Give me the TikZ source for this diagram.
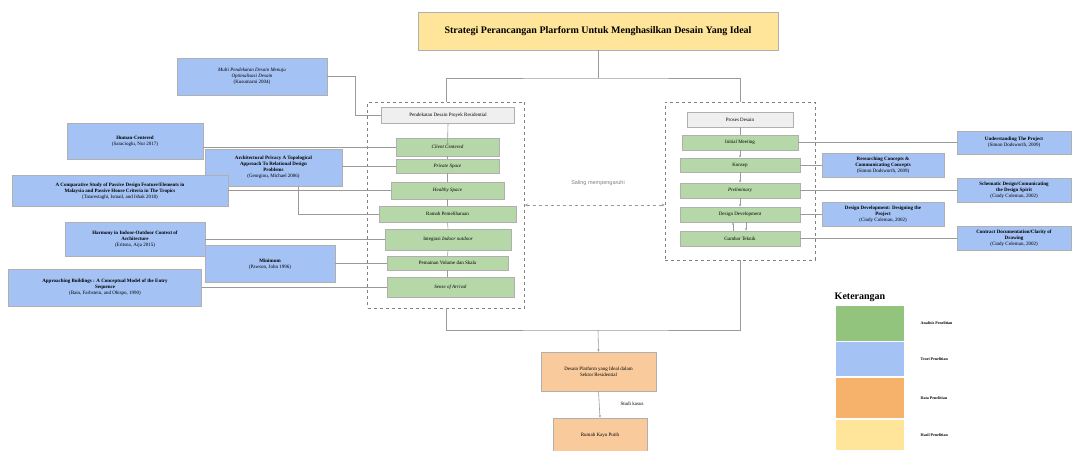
\documentclass[tikz,border=0pt]{standalone}
\usepackage{fontspec}
\setmainfont{Liberation Serif}
\newfontfamily\sansfont{Liberation Sans}
\usetikzlibrary{arrows.meta}

\definecolor{titleyellow}{HTML}{FFE599}
\definecolor{teoriblue}{HTML}{A4C2F4}
\definecolor{stepgreen}{HTML}{B6D7A8}
\definecolor{headgray}{HTML}{EFEFEF}
\definecolor{datapeach}{HTML}{F9CB9C}
\definecolor{leggreen}{HTML}{93C47D}
\definecolor{legorange}{HTML}{F6B26B}
\definecolor{linegray}{HTML}{9A9A9A}
\definecolor{edgegray}{HTML}{B0B0B0}

\tikzset{
  smalltext/.style={font=\fontsize{5}{6}\selectfont},
  anybox/.style={draw=edgegray, line width=0.6pt, inner sep=0pt, align=center, smalltext},
  teoribox/.style={anybox, fill=teoriblue},
  stepbox/.style={anybox, fill=stepgreen},
  headbox/.style={anybox, fill=headgray},
  databox/.style={anybox, fill=datapeach},
  framebox/.style={draw=gray, dashed, line width=0.6pt, inner sep=0pt},
  link/.style={draw=linegray, line width=0.6pt},
  arrowlink/.style={link, -{Stealth[length=2.6pt,width=2.2pt]}},
  legbox/.style={draw=none, inner sep=0pt, minimum width=68pt},
  legtext/.style={anchor=west, font=\fontsize{4}{5}\selectfont\bfseries}
}

\begin{document}
\begin{tikzpicture}[x=1pt,y=-1pt]
\useasboundingbox (0,0) rectangle (1075,450);

\node[anybox, fill=titleyellow, minimum width=360pt, minimum height=38pt, font=\fontsize{10}{12}\selectfont\bfseries] (title) at (598,31) {Strategi Perancangan Plarform Untuk Menghasilkan Desain Yang Ideal};

\node[framebox, minimum width=157pt, minimum height=206pt] (lframe) at (446,205) {};
\node[framebox, minimum width=150pt, minimum height=158pt] (rframe) at (740,181) {};

\node[headbox, minimum width=133pt, minimum height=16pt] (pdp) at (448,115) {Pendekatan Desain Proyek Residential};
\node[stepbox, minimum width=103pt, minimum height=18pt] (client) at (447.5,147) {\textit{Client Centered}};
\node[stepbox, minimum width=103pt, minimum height=14pt] (private) at (447.5,166) {\textit{Private Space}};
\node[stepbox, minimum width=113pt, minimum height=17pt] (healthy) at (447.5,190.5) {\textit{Healthy Space}};
\node[stepbox, minimum width=137pt, minimum height=16pt] (ramah) at (447.5,214) {Ramah Pemeliharaan};
\node[stepbox, minimum width=126pt, minimum height=21pt] (integrasi) at (448,239.5) {Integrasi \textit{Indoor outdoor}};
\node[stepbox, minimum width=121pt, minimum height=14pt] (pemainan) at (447.5,263) {Pemainan Volume dan Skala};
\node[stepbox, minimum width=127pt, minimum height=20pt] (sense) at (450.5,287) {\textit{Sense of Arrival}};

\node[headbox, minimum width=106pt, minimum height=15pt] (proses) at (740,119.5) {Proses Desain};
\node[stepbox, minimum width=116pt, minimum height=15pt] (initial) at (740,142.5) {Initial Meeting};
\node[stepbox, minimum width=120pt, minimum height=14pt] (konsep) at (740,165) {Konsep};
\node[stepbox, minimum width=120pt, minimum height=15pt] (prelim) at (740,190.5) {\textit{Preliminary}};
\node[stepbox, minimum width=120pt, minimum height=15pt] (devel) at (740,214.5) {Design Development};
\node[stepbox, minimum width=120pt, minimum height=15pt] (gambar) at (740,238.5) {Gambar Teknik};

\node[teoribox, minimum width=150pt, minimum height=37pt] (multi) at (252,76.5) {\textit{Multi Pendekatan Desain Menuju}\\\textit{Optimalisasi Desain}\\(Kusumarni 2004)};
\node[teoribox, minimum width=136pt, minimum height=36pt] (human) at (135,141) {\textbf{Human-Centered}\\(Saracioglu, Nur 2017)};
\node[teoribox, minimum width=137pt, minimum height=37pt] (privacy) at (273.5,167.5) {\textbf{Architectural Privacy A Topological}\\\textbf{Approach To Relational Design}\\\textbf{Problems}\\(Georgiou, Michael 2006)};
\node[teoribox, minimum width=216pt, minimum height=31pt] (passive) at (120,191) {\textbf{A Comparative Study of Passive Design Feature/Elements in}\\\textbf{Malaysia and Passive House Criteria in The Tropics}\\(Tatarestaghi, Ismail, and Ishak 2018)};
\node[teoribox, minimum width=140pt, minimum height=34pt] (harmony) at (135,239) {\textbf{Harmony in Indoor-Outdoor Context of}\\\textbf{Architecture}\\(Eritsna, Aija 2015)};
\node[teoribox, minimum width=130pt, minimum height=37pt] (minimum) at (270,264) {\textbf{Minimum}\\(Pawson, John 1996)};
\node[teoribox, minimum width=193pt, minimum height=37pt] (entry) at (105,287.5) {\textbf{Approaching Buildings : A Conceptual Model of the Entry}\\\textbf{Sequence}\\(Bain, Farbstein, and Obispo, 1990)};

\node[teoribox, minimum width=114pt, minimum height=23pt] (understand) at (1014,142.5) {\textbf{Understanding The Project}\\(Simon Dodsworth, 2009)};
\node[teoribox, minimum width=122pt, minimum height=24pt] (research) at (883,165) {\textbf{Researching Concepts \&}\\\textbf{Communicating Concepts}\\(Simon Dodsworth, 2009)};
\node[teoribox, minimum width=114pt, minimum height=24pt] (schematic) at (1014,190.5) {\textbf{Schematic Design/Comunicating}\\\textbf{the Design Spirit}\\(Cindy Coleman, 2002)};
\node[teoribox, minimum width=122pt, minimum height=24pt] (designing) at (883,214) {\textbf{Design Development: Designing the}\\\textbf{Project}\\(Cindy Coleman, 2002)};
\node[teoribox, minimum width=114pt, minimum height=24pt] (contract) at (1014,238.5) {\textbf{Contract Documentation/Clarity of}\\\textbf{Drawing}\\(Cindy Coleman, 2002)};

\node[font=\sansfont\fontsize{5.5}{6}\selectfont, text=gray] (saling) at (598,183) {Saling mempengaruhi};

\node[databox, minimum width=115pt, minimum height=39pt] (platform) at (598.5,371.5) {Desain Platform yang Ideal dalam\\Sektor Residential};
\node[databox, minimum width=94pt, minimum height=34pt] (rumah) at (600,435) {Rumah Kayu Putih};
\node[smalltext] (studi) at (632,404) {Studi kasus};

\node[font=\fontsize{10}{11}\selectfont\bfseries] (keterangan) at (860,297) {Keterangan};
\node[legbox, fill=leggreen, minimum height=35pt] (leg1) at (870,323.5) {};
\node[legbox, fill=teoriblue, minimum height=34pt] (leg2) at (870,359) {};
\node[legbox, fill=legorange, minimum height=40pt] (leg3) at (870,398) {};
\node[legbox, fill=titleyellow, minimum height=30pt] (leg4) at (870,435) {};
\node[legtext] (lab1) at ([xshift=13pt]leg1.east) {Analisis Penelitian};
\node[legtext] (lab2) at ([xshift=13pt]leg2.east) {Teori Penelitian};
\node[legtext] (lab3) at ([xshift=13pt]leg3.east) {Data Penelitian};
\node[legtext] (lab4) at ([xshift=13pt]leg4.east) {Hasil Penelitian};

\coordinate (split) at (598,78);
\coordinate (merge) at (598,330);
\draw[link] (title.south) -- (split);
\draw[link] (lframe.north) |- (split) -| (rframe.north);
\draw[link] (lframe.south) |- (merge) -| (rframe.south);
\draw[arrowlink] (merge) -- (platform.north);
\draw[arrowlink] (platform.south) -- (rumah.north);
\draw[link, dashed, {Stealth[length=3pt,width=2.6pt]}-{Stealth[length=3pt,width=2.6pt]}] (lframe.east) -- (lframe.east -| rframe.west);

\draw[arrowlink] (pdp.south) -- ([yshift=-8pt]client.north);
\draw[link] (client.south) -- (private.north);
\draw[link] (private.south) -- (healthy.north);
\draw[link] (healthy.south) -- (ramah.north);
\draw[link] (ramah.south) -- (integrasi.north);
\draw[link] (integrasi.south) -- (pemainan.north);
\draw[link] (pemainan.south) -- ([xshift=-3pt]sense.north);

\draw[link] (proses.south) -- (initial.north);
\draw[arrowlink] (initial.south) -- (konsep.north);
\draw[arrowlink] (konsep.south) -- (prelim.north);
\draw[arrowlink] (prelim.south) -- (devel.north);
\draw[arrowlink] ([xshift=-7pt]gambar.north) -- ([xshift=-7pt]devel.south);
\draw[arrowlink] ([xshift=6pt]devel.south) -- ([xshift=6pt]gambar.north);

\draw[link] (multi.east) -| ([xshift=-26pt]pdp.west) -- (pdp.west);
\draw[link] (client.west -| human.east) -- (client.west);
\draw[link] (private.west -| privacy.east) -- (private.west);
\draw[link] (healthy.west -| passive.east) -- (healthy.west);
\draw[link] ([xshift=24.5pt]privacy.south) |- (ramah.west);
\draw[link] (integrasi.west -| harmony.east) -- (integrasi.west);
\draw[link] (pemainan.west -| minimum.east) -- (pemainan.west);
\draw[link] (sense.west -| entry.east) -- (sense.west);

\draw[link] (initial.east) -- (initial.east -| understand.west);
\draw[link] (konsep.east) -- (konsep.east -| research.west);
\draw[link] (prelim.east) -- (prelim.east -| schematic.west);
\draw[link] (devel.east) -- (devel.east -| designing.west);
\draw[link] (gambar.east) -- (gambar.east -| contract.west);
\end{tikzpicture}
\end{document}
